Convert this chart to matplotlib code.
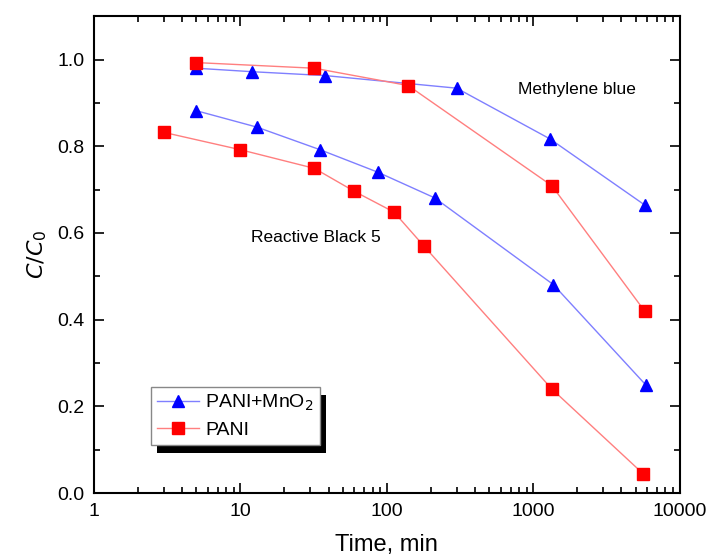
import matplotlib
matplotlib.use("Agg")
import matplotlib.pyplot as plt
from matplotlib.patches import Rectangle
from matplotlib.ticker import LogLocator, MultipleLocator, FixedLocator, FixedFormatter, FormatStrFormatter

plt.rcParams['font.family'] = ['Liberation Sans', 'DejaVu Sans']

# Methylene blue
mb_t_mno2 = [5, 12, 38, 300, 1300, 5800]
mb_c_mno2 = [0.98, 0.972, 0.963, 0.934, 0.817, 0.664]
mb_t_pani = [5, 32, 140, 1340, 5760]
mb_c_pani = [0.993, 0.98, 0.94, 0.709, 0.42]

# Reactive Black 5
rb_t_mno2 = [5, 13, 35, 87, 212, 1370, 5850]
rb_c_mno2 = [0.882, 0.844, 0.792, 0.74, 0.681, 0.481, 0.25]
rb_t_pani = [3, 10, 32, 60, 112, 180, 1340, 5650]
rb_c_pani = [0.832, 0.792, 0.749, 0.696, 0.648, 0.569, 0.24, 0.044]

xticks = [1, 10, 100, 1000, 10000]
xtick_labels = ["1", "10", "100", "1000", "10000"]

fig = plt.figure(figsize=(7.09, 5.59), dpi=100)
ax = fig.add_axes([0.1326, 0.118, 0.826, 0.853])

blue_line = dict(color='#7f7fff', lw=1.0, marker='^', mfc='#0000ff', mec='#0000ff', ms=9)
red_line = dict(color='#ff7f7f', lw=1.0, marker='s', mfc='#ff0000', mec='#ff0000', ms=8)

ax.plot(mb_t_mno2, mb_c_mno2, label="PANI+MnO$_2$", **blue_line)
ax.plot(mb_t_pani, mb_c_pani, label="PANI", **red_line)
ax.plot(rb_t_mno2, rb_c_mno2, **blue_line)
ax.plot(rb_t_pani, rb_c_pani, **red_line)

ax.set_xscale('log')
ax.set_xlim(1, 10000)
ax.set_ylim(0, 1.1)
ax.xaxis.set_major_locator(FixedLocator(xticks))
ax.xaxis.set_major_formatter(FixedFormatter(xtick_labels))
ax.xaxis.set_minor_locator(LogLocator(base=10, subs=range(2, 10)))
ax.yaxis.set_major_locator(MultipleLocator(0.2))
ax.yaxis.set_minor_locator(MultipleLocator(0.1))
ax.yaxis.set_major_formatter(FormatStrFormatter('%.1f'))

ax.tick_params(which='both', direction='in', top=True, right=True, width=1.2)
ax.tick_params(which='major', length=7, labelsize=14, pad=7)
ax.tick_params(which='minor', length=4)
for s in ax.spines.values():
    s.set_linewidth(1.5)

ax.set_xlabel("Time, min", fontsize=17, labelpad=10)
ax.set_ylabel("$C/C_0$", fontsize=16, labelpad=6)

ax.text(2000, 0.93, "Methylene blue", fontsize=12.5, ha='center', va='center')
ax.text(33, 0.59, "Reactive Black 5", fontsize=12.5, ha='center', va='center')

leg = ax.legend(loc='upper left', bbox_to_anchor=(0.097, 0.222), borderaxespad=0,
                fontsize=14, fancybox=False, framealpha=1, edgecolor='#888888',
                handlelength=2.2, handletextpad=0.3, borderpad=0.3, labelspacing=0.4)
leg.get_frame().set_linewidth(1.0)
leg.set_zorder(6)

fig.canvas.draw()
bb = leg.get_window_extent().transformed(ax.transAxes.inverted())
dx = 6 / ax.bbox.width
dy = 8 / ax.bbox.height
shadow = Rectangle((bb.x0 + dx, bb.y0 - dy), bb.width, bb.height, transform=ax.transAxes,
                   facecolor='black', edgecolor='none', zorder=5, clip_on=False)
ax.add_patch(shadow)

fig.savefig("out.png", dpi=100)
